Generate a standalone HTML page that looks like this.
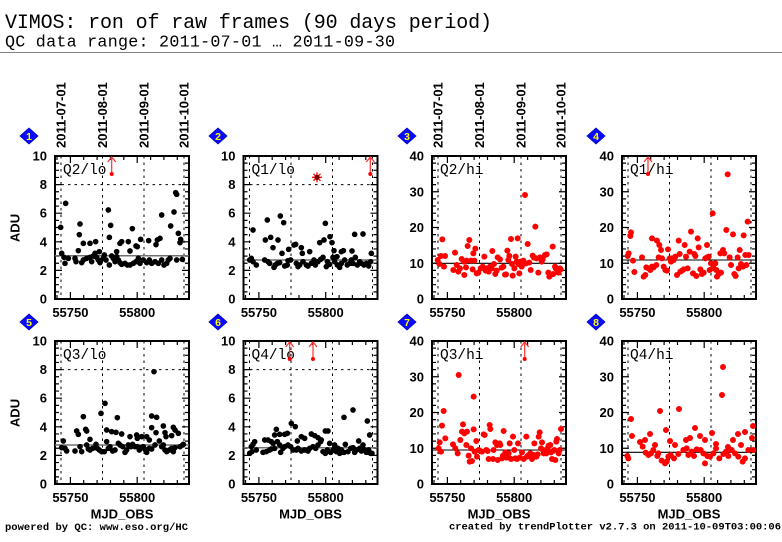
<!DOCTYPE html>
<html><head><meta charset="utf-8"><style>
html,body{margin:0;padding:0;background:#fff}
svg{display:block}
.t{font-family:"Liberation Sans",sans-serif;font-weight:bold;font-size:13px;fill:#000}
.m{font-family:"Liberation Mono",monospace;fill:#000}
</style></head><body>
<svg width="782" height="542" viewBox="0 0 782 542">
<defs>
<g id="fr">
<path d="M6 0V143M47.5 0V143M89 0V143M129 0V143" stroke="#000" stroke-width="1" stroke-dasharray="2.5 4" fill="none"/>
<path d="M2 143v-4M15.4 143v-7M28.7 143v-4M42.1 143v-4M55.5 143v-4M68.8 143v-4M82.2 143v-7M95.6 143v-4M108.9 143v-4M122.3 143v-4M2 0v4M15.4 0v7M28.7 0v4M42.1 0v4M55.5 0v4M68.8 0v4M82.2 0v7M95.6 0v4M108.9 0v4M122.3 0v4" stroke="#000" stroke-width="1.2" fill="none"/>
<rect x="0" y="0" width="134" height="143" fill="none" stroke="#000" stroke-width="2"/>
</g>
<g id="lo">
<use href="#fr"/>
<path d="M0 28.6H134" stroke="#000" stroke-width="1" stroke-dasharray="2.5 4" fill="none"/>
<path d="M0 135.85h4M0 128.7h4M0 121.55h4M0 114.4h7M0 107.25h4M0 100.1h4M0 92.95h4M0 85.8h7M0 78.65h4M0 71.5h4M0 64.35h4M0 57.2h7M0 50.05h4M0 42.9h4M0 35.75h4M0 28.6h7M0 21.45h4M0 14.3h4M0 7.15h4M134 135.85h-4M134 128.7h-4M134 121.55h-4M134 114.4h-7M134 107.25h-4M134 100.1h-4M134 92.95h-4M134 85.8h-7M134 78.65h-4M134 71.5h-4M134 64.35h-4M134 57.2h-7M134 50.05h-4M134 42.9h-4M134 35.75h-4M134 28.6h-7M134 21.45h-4M134 14.3h-4M134 7.15h-4" stroke="#000" stroke-width="1.2" fill="none"/>
</g>
<g id="hi">
<use href="#fr"/>
<path d="M0 135.85h4M0 128.7h4M0 121.55h4M0 114.4h4M0 107.25h7M0 100.1h4M0 92.95h4M0 85.8h4M0 78.65h4M0 71.5h7M0 64.35h4M0 57.2h4M0 50.05h4M0 42.9h4M0 35.75h7M0 28.6h4M0 21.45h4M0 14.3h4M0 7.15h4M134 135.85h-4M134 128.7h-4M134 121.55h-4M134 114.4h-4M134 107.25h-7M134 100.1h-4M134 92.95h-4M134 85.8h-4M134 78.65h-4M134 71.5h-7M134 64.35h-4M134 57.2h-4M134 50.05h-4M134 42.9h-4M134 35.75h-7M134 28.6h-4M134 21.45h-4M134 14.3h-4M134 7.15h-4" stroke="#000" stroke-width="1.2" fill="none"/>
</g>
</defs>

<!-- Header -->
<text class="m" x="5" y="28" font-size="20" textLength="487">VIMOS: ron of raw frames (90 days period)</text>
<text class="m" x="5" y="46.5" font-size="16.7" textLength="390">QC data range: 2011-07-01 … 2011-09-30</text>
<path d="M0 52.5H782" stroke="#808080" stroke-width="1"/>

<!-- Date labels (col 1 and col 3) -->
<g class="t">
<text transform="translate(65.5 148) rotate(-90)">2011-07-01</text>
<text transform="translate(107 148) rotate(-90)">2011-08-01</text>
<text transform="translate(148.5 148) rotate(-90)">2011-09-01</text>
<text transform="translate(188.5 148) rotate(-90)">2011-10-01</text>
<text transform="translate(442.5 148) rotate(-90)">2011-07-01</text>
<text transform="translate(484 148) rotate(-90)">2011-08-01</text>
<text transform="translate(525.5 148) rotate(-90)">2011-09-01</text>
<text transform="translate(565.5 148) rotate(-90)">2011-10-01</text>
</g>

<!-- Diamonds -->
<g fill="#0a0aff" stroke="#0000c0" stroke-width="0.8">
<polygon points="29,128 38,136 29,144 20,136"/>
<polygon points="218,128 227,136 218,144 209,136"/>
<polygon points="407,128 416,136 407,144 398,136"/>
<polygon points="596,128 605,136 596,144 587,136"/>
<polygon points="29,314 38,322 29,330 20,322"/>
<polygon points="218,314 227,322 218,330 209,322"/>
<polygon points="407,314 416,322 407,330 398,322"/>
<polygon points="596,314 605,322 596,330 587,322"/>
</g>
<g font-family="Liberation Sans,sans-serif" font-weight="bold" font-size="10.5" fill="#ffff00" text-anchor="middle">
<text x="29" y="139.8">1</text><text x="218" y="139.8">2</text><text x="407" y="139.8">3</text><text x="596" y="139.8">4</text>
<text x="29" y="325.8">5</text><text x="218" y="325.8">6</text><text x="407" y="325.8">7</text><text x="596" y="325.8">8</text>
</g>

<!-- ADU labels -->
<text class="t" transform="translate(19.5 228) rotate(-90)" text-anchor="middle">ADU</text>
<text class="t" transform="translate(19.5 413) rotate(-90)" text-anchor="middle">ADU</text>

<!-- Frames -->
<use href="#lo" x="55" y="156"/>
<use href="#lo" x="243.5" y="156"/>
<use href="#hi" x="432" y="156"/>
<use href="#hi" x="622" y="156"/>
<use href="#lo" x="55" y="341"/>
<use href="#lo" x="243.5" y="341"/>
<use href="#hi" x="432" y="341"/>
<use href="#hi" x="622" y="341"/>

<!-- Y tick labels -->
<g class="t" text-anchor="end">
<text x="47" y="303.5">0</text><text x="47" y="274.9">2</text><text x="47" y="246.3">4</text><text x="47" y="217.7">6</text><text x="47" y="189.1">8</text><text x="47" y="160.5">10</text>
<text x="235.5" y="303.5">0</text><text x="235.5" y="274.9">2</text><text x="235.5" y="246.3">4</text><text x="235.5" y="217.7">6</text><text x="235.5" y="189.1">8</text><text x="235.5" y="160.5">10</text>
<text x="424" y="303.5">0</text><text x="424" y="267.75">10</text><text x="424" y="232">20</text><text x="424" y="196.25">30</text><text x="424" y="160.5">40</text>
<text x="614" y="303.5">0</text><text x="614" y="267.75">10</text><text x="614" y="232">20</text><text x="614" y="196.25">30</text><text x="614" y="160.5">40</text>
<text x="47" y="488.5">0</text><text x="47" y="459.9">2</text><text x="47" y="431.3">4</text><text x="47" y="402.7">6</text><text x="47" y="374.1">8</text><text x="47" y="345.5">10</text>
<text x="235.5" y="488.5">0</text><text x="235.5" y="459.9">2</text><text x="235.5" y="431.3">4</text><text x="235.5" y="402.7">6</text><text x="235.5" y="374.1">8</text><text x="235.5" y="345.5">10</text>
<text x="424" y="488.5">0</text><text x="424" y="452.75">10</text><text x="424" y="417">20</text><text x="424" y="381.25">30</text><text x="424" y="345.5">40</text>
<text x="614" y="488.5">0</text><text x="614" y="452.75">10</text><text x="614" y="417">20</text><text x="614" y="381.25">30</text><text x="614" y="345.5">40</text>
</g>

<!-- X tick labels -->
<g class="t" text-anchor="middle">
<text x="70.4" y="317">55750</text><text x="137.2" y="317">55800</text>
<text x="258.9" y="317">55750</text><text x="325.7" y="317">55800</text>
<text x="447.4" y="317">55750</text><text x="514.2" y="317">55800</text>
<text x="637.4" y="317">55750</text><text x="704.2" y="317">55800</text>
<text x="70.4" y="502">55750</text><text x="137.2" y="502">55800</text>
<text x="258.9" y="502">55750</text><text x="325.7" y="502">55800</text>
<text x="447.4" y="502">55750</text><text x="514.2" y="502">55800</text>
<text x="637.4" y="502">55750</text><text x="704.2" y="502">55800</text>
</g>

<!-- MJD_OBS -->
<g class="t" text-anchor="middle" font-size="12.5">
<text x="122" y="518.5">MJD_OBS</text>
<text x="310.5" y="518.5">MJD_OBS</text>
<text x="499" y="518.5">MJD_OBS</text>
<text x="689" y="518.5">MJD_OBS</text>
</g>

<!-- Panel labels -->
<g class="m" font-size="14.5">
<text x="63" y="174">Q2/lo</text>
<text x="251.5" y="174">Q1/lo</text>
<text x="440" y="174">Q2/hi</text>
<text x="630" y="174">Q1/hi</text>
<text x="63" y="359">Q3/lo</text>
<text x="251.5" y="359">Q4/lo</text>
<text x="440" y="359">Q3/hi</text>
<text x="630" y="359">Q4/hi</text>
</g>

<!-- Median lines -->
<g stroke="#707070" stroke-width="1.5">
<path d="M55 255.7H189"/><path d="M243.5 260H377.5"/><path d="M55 445H189"/><path d="M243.5 447.7H377.5"/>
</g>
<g stroke="#000" stroke-width="1.1">
<path d="M432 263.3H566"/><path d="M622 260H756"/><path d="M432 450H566"/><path d="M622 452.3H756"/>
</g>

<!-- P1 points -->
<path transform="translate(50 150) scale(0.33333)" fill="none" stroke="#000" stroke-width="17" stroke-linecap="round" d="M47 160h0M175 180h0M182 226h0M178 262h0M90 222h0M88 254h0M100 280h0M120 280h0M137 275h0M32 232h0M247 236h0M335 195h0M377 128h0M380 133h0M372 186h0M362 228h0M385 250h0M392 268h0M390 278h0M322 270h0M318 284h0M330 265h0M296 272h0M272 268h0M235 275h0M258 288h0M262 290h0M215 275h0M210 280h0M200 305h0M240 303h0M85 302h0M35 310h0M42 322h0M45 340h0M55 325h0M75 325h0M78 335h0M95 338h0M100 330h0M110 325h0M120 322h0M125 335h0M130 318h0M135 310h0M140 322h0M145 330h0M148 305h0M150 338h0M160 325h0M163 315h0M168 330h0M178 345h0M185 318h0M190 325h0M195 335h0M200 320h0M205 330h0M210 338h0M215 343h0M225 340h0M232 345h0M240 345h0M250 340h0M258 335h0M265 325h0M270 340h0M280 330h0M290 338h0M298 330h0M305 340h0M315 335h0M325 340h0M335 330h0M342 345h0M350 340h0M355 330h0M360 325h0M380 330h0M397 328h0"/>

<!-- P2 points -->
<path transform="translate(238 150) scale(0.33333)" fill="none" stroke="#000" stroke-width="17" stroke-linecap="round" d="M45 240h0M88 210h0M127 198h0M137 218h0M262 220h0M82 270h0M98 262h0M105 293h0M120 270h0M132 310h0M152 298h0M168 285h0M173 283h0M190 293h0M193 310h0M215 305h0M245 278h0M258 270h0M276 260h0M282 278h0M288 302h0M297 320h0M310 305h0M316 302h0M342 303h0M350 253h0M375 252h0M400 310h0M35 330h0M40 325h0M45 335h0M55 345h0M80 330h0M90 335h0M95 340h0M108 352h0M112 345h0M118 340h0M125 338h0M140 348h0M148 345h0M150 332h0M158 330h0M175 340h0M180 350h0M185 345h0M195 335h0M205 345h0M210 348h0M220 340h0M228 330h0M232 345h0M240 335h0M248 328h0M255 322h0M265 350h0M268 335h0M275 343h0M285 322h0M290 335h0M298 345h0M305 352h0M310 340h0M320 330h0M328 345h0M335 340h0M340 330h0M345 340h0M352 322h0M358 345h0M365 335h0M370 340h0M378 345h0M385 340h0M392 348h0M398 335h0"/>

<!-- P3 points -->
<path transform="translate(390 140) scale(0.33333)" fill="none" stroke="#f00" stroke-width="18" stroke-linecap="round" d="M157 298h0M153 348h0M143 360h0M148 372h0M165 348h0M162 380h0M190 390h0M195 338h0M200 375h0M205 395h0M210 385h0M215 357h0M222 365h0M223 405h0M230 362h0M228 382h0M233 318h0M238 300h0M243 362h0M248 388h0M250 340h0M256 326h0M253 362h0M260 400h0M265 398h0M272 385h0M278 380h0M283 350h0M287 392h0M290 385h0M296 395h0M300 380h0M305 385h0M307 333h0M312 372h0M316 402h0M320 392h0M323 352h0M330 358h0M335 383h0M340 380h0M345 404h0M348 403h0M352 332h0M355 360h0M358 348h0M363 297h0M366 372h0M368 407h0M373 385h0M377 350h0M380 365h0M383 295h0M385 372h0M388 400h0M391 365h0M395 380h0M397 375h0M400 362h0M405 165h0M408 370h0M413 312h0M418 368h0M422 390h0M428 347h0M432 353h0M436 260h0M440 355h0M445 398h0M450 352h0M455 365h0M458 358h0M465 345h0M470 343h0M475 398h0M478 410h0M482 405h0M488 320h0M490 402h0M495 380h0M497 385h0M503 390h0M505 398h0M510 385h0M512 388h0"/>

<!-- P4 points -->
<path transform="translate(617 150) scale(0.33333)" fill="none" stroke="#f00" stroke-width="18" stroke-linecap="round" d="M42 247h0M40 258h0M35 310h0M32 318h0M48 332h0M52 366h0M75 322h0M85 375h0M80 380h0M88 352h0M95 355h0M100 360h0M105 350h0M110 352h0M105 265h0M118 345h0M120 272h0M127 285h0M132 300h0M125 322h0M135 325h0M140 350h0M145 360h0M150 362h0M153 298h0M158 325h0M165 325h0M162 335h0M170 330h0M175 320h0M180 375h0M185 272h0M188 312h0M190 365h0M195 362h0M200 358h0M203 285h0M207 320h0M212 355h0M218 305h0M222 245h0M228 370h0M232 312h0M235 318h0M238 378h0M242 265h0M245 292h0M250 358h0M255 372h0M260 368h0M265 325h0M270 285h0M270 322h0M275 320h0M278 360h0M282 340h0M287 190h0M290 355h0M295 340h0M298 360h0M300 380h0M305 372h0M310 310h0M312 368h0M318 300h0M322 310h0M328 240h0M332 73h0M338 322h0M342 345h0M348 253h0M352 372h0M356 378h0M362 322h0M365 355h0M368 300h0M372 342h0M378 350h0M380 256h0M385 315h0M388 345h0M392 215h0M395 315h0"/>

<!-- P5 points -->
<path transform="translate(50 335) scale(0.33333)" fill="none" stroke="#000" stroke-width="17" stroke-linecap="round" d="M312 110h0M165 205h0M153 235h0M100 245h0M202 248h0M305 243h0M320 247h0M80 288h0M85 298h0M107 283h0M110 288h0M120 313h0M170 285h0M185 290h0M198 292h0M215 297h0M305 278h0M318 293h0M340 273h0M345 293h0M348 305h0M370 277h0M375 285h0M385 295h0M365 302h0M328 318h0M260 300h0M262 310h0M275 305h0M290 305h0M298 315h0M240 305h0M40 318h0M45 340h0M35 338h0M50 348h0M75 348h0M90 335h0M95 350h0M110 330h0M115 342h0M120 345h0M128 340h0M138 328h0M142 340h0M148 345h0M155 350h0M163 350h0M170 320h0M175 340h0M180 335h0M188 348h0M195 345h0M205 325h0M210 330h0M218 335h0M225 352h0M230 345h0M235 330h0M243 335h0M248 328h0M255 335h0M262 335h0M268 345h0M272 338h0M280 335h0M285 343h0M290 352h0M298 340h0M305 342h0M315 330h0M335 335h0M340 330h0M345 345h0M350 350h0M358 345h0M365 340h0M370 350h0M375 338h0M390 335h0M398 330h0M400 328h0"/>

<!-- P6 points -->
<path transform="translate(238 335) scale(0.33333)" fill="none" stroke="#000" stroke-width="17" stroke-linecap="round" d="M345 225h0M318 247h0M388 258h0M395 300h0M160 265h0M172 275h0M115 283h0M110 300h0M125 298h0M140 298h0M148 295h0M190 305h0M200 310h0M178 318h0M220 297h0M230 302h0M240 308h0M248 320h0M262 288h0M270 288h0M275 325h0M250 315h0M80 315h0M90 315h0M100 320h0M118 320h0M105 325h0M50 320h0M40 335h0M45 328h0M35 355h0M42 350h0M55 345h0M75 352h0M85 350h0M95 345h0M100 342h0M110 340h0M125 330h0M128 352h0M135 340h0M140 335h0M150 330h0M158 335h0M165 345h0M175 345h0M180 340h0M190 348h0M200 345h0M210 348h0M215 340h0M225 335h0M233 340h0M240 330h0M255 350h0M262 355h0M268 345h0M278 352h0M285 345h0M290 330h0M295 350h0M300 340h0M305 355h0M310 345h0M318 352h0M322 328h0M330 350h0M338 340h0M345 338h0M350 352h0M355 345h0M362 318h0M365 340h0M370 348h0M375 330h0M380 345h0M385 352h0M392 345h0M398 355h0M402 355h0"/>

<!-- P7 points -->
<path transform="translate(427 335) scale(0.33333)" fill="none" stroke="#f00" stroke-width="18" stroke-linecap="round" d="M95 120h0M140 185h0M50 228h0M45 272h0M55 310h0M35 340h0M38 322h0M42 350h0M78 328h0M85 340h0M92 355h0M100 315h0M105 290h0M108 268h0M112 295h0M118 330h0M120 290h0M125 362h0M128 380h0M135 378h0M132 340h0M140 283h0M143 350h0M148 318h0M150 365h0M155 345h0M160 348h0M165 350h0M170 298h0M173 300h0M178 345h0M182 348h0M185 372h0M188 270h0M190 282h0M198 372h0M200 345h0M205 322h0M210 330h0M212 375h0M218 325h0M220 330h0M225 370h0M228 362h0M230 288h0M235 352h0M238 368h0M242 365h0M245 355h0M248 325h0M252 372h0M258 305h0M262 345h0M265 370h0M270 372h0M273 325h0M278 368h0M285 352h0M290 372h0M298 305h0M300 365h0M305 360h0M310 355h0M315 372h0M320 360h0M322 325h0M328 365h0M332 358h0M335 305h0M338 292h0M342 340h0M345 322h0M348 345h0M350 355h0M358 355h0M362 340h0M365 332h0M370 330h0M372 352h0M375 372h0M378 348h0M382 345h0M385 375h0M388 320h0M390 312h0M395 355h0M398 345h0M402 282h0"/>

<!-- P8 points -->
<path transform="translate(420 440) scale(0.33333)" fill="none" stroke="#f00" stroke-width="18" stroke-linecap="round" d="M625 55h0M622 48h0M668 20h0M677 38h0M685 45h0M693 40h0M700 30h0M712 48h0M715 40h0M725 62h0M735 70h0M740 65h0M745 50h0M752 45h0M762 55h0M775 42h0M790 30h0M800 25h0M805 45h0M815 35h0M822 48h0M830 28h0M842 30h0M850 40h0M855 70h0M862 48h0M870 50h0M880 40h0M888 25h0M898 55h0M910 42h0M918 35h0M925 48h0M935 30h0M945 40h0M955 50h0M968 65h0M975 55h0M985 30h0M1000 30h0"/>
<path fill="none" stroke="#f00" stroke-width="6" stroke-linecap="round" d="M631 419h0M632 436h0M640 442h0M650 434h0M660 411h0M666 430h0M675 445h0M679 409h0M690 438h0M695 428h0M705 440h0M712 433h0M722 395h0M723 367h0M733 440h0M745 432h0M752 438h0M753 426h0M741 445h0M700 436h0M686 440h0M670 441h0M655 445h0M645 440h0M728 447h0M716 444h0M738 434h0"/>

<!-- Red arrows / outlier markers -->
<g stroke="#ff3030" stroke-width="1.2" fill="none">
<path d="M111.7 174V157M107.7 162L111.7 157L115.7 162"/>
<path d="M370.3 174V157M366.3 162L370.3 157L374.3 162"/>
<path d="M648 174V157M644 162L648 157L652 162"/>
<path d="M289.7 359V342M285.7 347L289.7 342L293.7 347"/>
<path d="M313 359V342M309 347L313 342L317 347"/>
<path d="M524.7 359V342M520.7 347L524.7 342L528.7 347"/>
</g>
<g fill="#f00">
<circle cx="111.7" cy="174" r="2"/><circle cx="370.3" cy="174" r="2"/><circle cx="648" cy="174" r="2"/>
<circle cx="289.7" cy="359" r="2"/><circle cx="313" cy="359" r="2"/><circle cx="524.7" cy="359" r="2"/>
</g>
<g stroke="#f00" stroke-width="1.3">
<path d="M312 177.3H322M317 172.3V182.3M313.5 173.8L320.5 180.8M320.5 173.8L313.5 180.8"/>
</g>
<circle cx="317" cy="177.3" r="2.6" fill="#700"/>

<!-- Footer -->
<text class="m" x="5" y="530" font-size="10.5" font-weight="bold" textLength="183">powered by QC: www.eso.org/HC</text>
<text class="m" x="449" y="529.5" font-size="10.5" font-weight="bold" textLength="332">created by trendPlotter v2.7.3 on 2011-10-09T03:00:06</text>
</svg>
</body></html>
